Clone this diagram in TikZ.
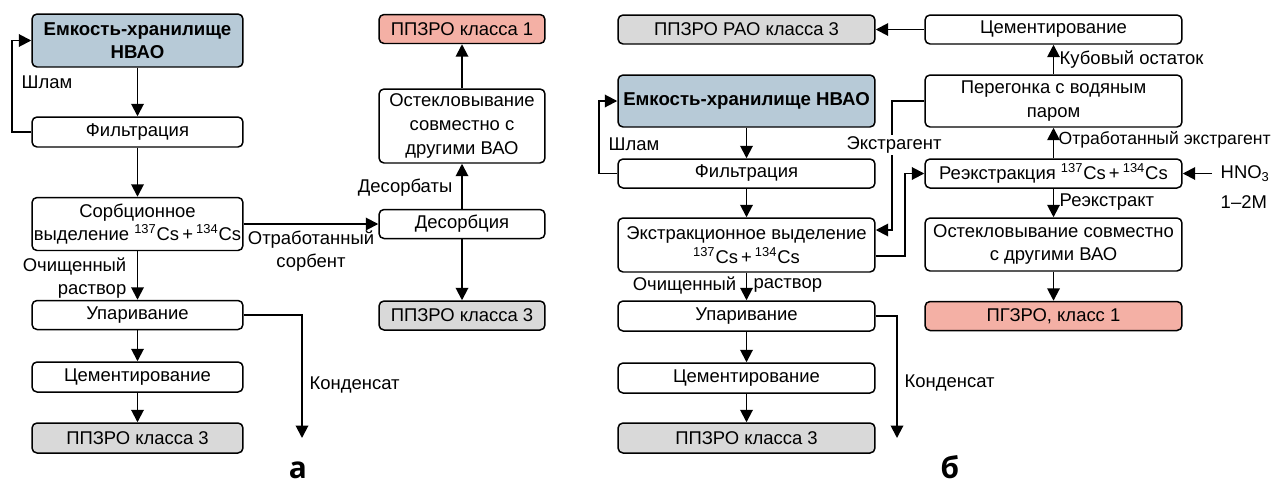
\documentclass[tikz,border=0pt]{standalone}
\usepackage{fontspec}
\setmainfont{Liberation Sans}
\newfontfamily\panelfont{Open Sans}
\usepackage{xcolor}
\usetikzlibrary{arrows.meta}

\definecolor{tankblue}{RGB}{183,202,215}
\definecolor{hlwred}{RGB}{244,176,165}
\definecolor{repogray}{RGB}{217,217,217}

\newcommand{\csmix}{\textsuperscript{137}Cs\,+\,\textsuperscript{134}Cs}

\begin{document}
\begin{tikzpicture}[x=0.02cm, y=-0.02cm, line width=1.1pt,
		>={Triangle[length=0.25cm,width=0.25cm]},
		every node/.style={font=\fontsize{10.5}{13.4}\selectfont, inner sep=1pt},
		box/.style 2 args={draw, line width=0.85pt, rounded corners=0.1cm, align=center,
			minimum width=#1, minimum height=#2},
		tank/.style={fill=tankblue, font=\fontsize{10.6}{13.4}\selectfont\bfseries},
		hot/.style={fill=hlwred},
		cold/.style={fill=repogray},
		tag/.style={font=\fontsize{17}{20}\selectfont\panelfont\bfseries, anchor=base}]
		\useasboundingbox (0,0) rectangle (1277,484);
		
		% panel a
		\node[box={4.22cm}{1.06cm}, tank] (a_tank) at (137.5,40.5) {Емкость-хранилище\\НВАО};
		\node[box={4.22cm}{0.6cm}] (a_filt) at (137.5,132) {Фильтрация};
		\node[box={4.22cm}{1.06cm}] (a_sorb) at (137.5,224) {Сорбционное\\выделение \csmix};
		\node[box={4.22cm}{0.58cm}] (a_evap) at (137.5,315) {Упаривание};
		\node[box={4.22cm}{0.6cm}] (a_cem) at (137.5,377) {Цементирование};
		\node[box={4.22cm}{0.6cm}, cold] (a_repo) at (137.5,438) {ППЗРО класса 3};
		
		\node[box={3.32cm}{0.58cm}, hot] (a_cl1) at (462,29) {ППЗРО класса 1};
		\node[box={3.32cm}{1.48cm}] (a_vitr) at (462,126) {Остекловывание\\совместно с\\другими ВАО};
		\node[box={3.32cm}{0.58cm}] (a_des) at (462,224) {Десорбция};
		\node[box={3.32cm}{0.58cm}, cold] (a_cl3) at (462,315.5) {ППЗРО класса 3};
		
		\coordinate (a_cond) at (302,438);
		
		\draw[->] (a_tank) -- (a_filt);
		\draw[->] (a_filt.west) -- ++(-19,0) |- (a_tank.west);
		\draw[->] (a_filt) -- (a_sorb);
		\draw[->] (a_sorb) -- (a_evap);
		\draw[->] (a_evap) -- (a_cem);
		\draw[->] (a_cem) -- (a_repo);
		\draw[->] (a_evap.east) -| (a_cond);
		\draw[->] (a_sorb.east) -- (a_des.west);
		\draw[->] (a_des) -- (a_vitr);
		\draw[->] (a_vitr) -- (a_cl1);
		\draw[->] (a_des) -- (a_cl3);
		
		\node[anchor=west] (a_sludge) at (19,82) {Шлам};
		\node[anchor=east, align=right] (a_clean) at (129,278) {Очищенный\\раствор};
		\node[align=center] (a_spent) at (311,251) {Отработанный\\сорбент};
		\node[anchor=west] (a_condlab) at (307,385) {Конденсат};
		\node[anchor=east] (a_desorb) at (455,188) {Десорбаты};
		\node[tag] (a_label) at (298,478) {а};
		
		% panel b
		\node[box={5.14cm}{0.58cm}, cold] (b_repoRAO) at (746.5,29.5) {ППЗРО РАО класса 3};
		\node[box={5.14cm}{1.04cm}, tank] (b_tank) at (746.5,101) {Емкость-хранилище НВАО};
		\node[box={5.14cm}{0.58cm}] (b_filt) at (746.5,173.5) {Фильтрация};
		\node[box={5.14cm}{1.08cm}] (b_extr) at (746.5,245) {Экстракционное выделение\\\csmix};
		\node[box={5.14cm}{0.6cm}] (b_evap) at (746.5,316) {Упаривание};
		\node[box={5.14cm}{0.6cm}] (b_cem) at (746.5,378) {Цементирование};
		\node[box={5.14cm}{0.6cm}, cold] (b_repo) at (746.5,438) {ППЗРО класса 3};
		
		\node[box={5.14cm}{0.58cm}] (b_cem2) at (1053.5,29.5) {Цементирование};
		\node[box={5.14cm}{1.04cm}] (b_dist) at (1053.5,101) {Перегонка с водяным\\паром};
		\node[box={5.14cm}{0.58cm}] (b_reex) at (1053.5,173.5) {Реэкстракция \csmix};
		\node[box={5.14cm}{1.06cm}] (b_vitr) at (1053.5,244.5) {Остекловывание совместно\\с другими ВАО};
		\node[box={5.14cm}{0.58cm}, hot] (b_hlw) at (1053.5,316) {ПГЗРО, класс 1};
		
		\coordinate (b_cond) at (897,438);
		\coordinate (b_acid) at (1212,173.5);
		
		\draw[->] (b_cem2) -- (b_repoRAO);
		\draw[->] (b_tank) -- (b_filt);
		\draw[->] (b_filt.west) -- ++(-18,0) |- (b_tank.west);
		\draw[->] (b_filt) -- (b_extr);
		\draw[->] (b_extr) -- (b_evap);
		\draw[->] (b_evap) -- (b_cem);
		\draw[->] (b_cem) -- (b_repo);
		\draw[->] (b_evap.east) -| (b_cond);
		\draw[->] (b_dist.west) -- ++(-32,0) |- ([yshift=0.3cm]b_extr.east);
		\draw[->] ([yshift=-0.22cm]b_extr.east) -- ++(29,0) |- (b_reex.west);
		\draw[->] (b_dist) -- (b_cem2);
		\draw[->] (b_reex) -- (b_dist);
		\draw[->] (b_reex) -- (b_vitr);
		\draw[->] (b_vitr) -- (b_hlw);
		\draw[->] (b_acid) -- (b_reex.east);
		
		\node[anchor=west] (b_sludge) at (606,144) {Шлам};
		\node[fill=white] (b_extrag) at (894,145) {Экстрагент};
		\node[anchor=east] (b_clean1) at (739,285) {Очищенный};
		\node[anchor=west] (b_clean2) at (751,285) {раствор};
		\node[anchor=west] (b_condlab) at (902,383) {Конденсат};
		\node[anchor=west] (b_bottoms) at (1057,60) {Кубовый остаток};
		\node[anchor=west, font=\fontsize{10}{12}\selectfont] (b_spentex) at (1056,140) {Отработанный экстрагент};
		\node[anchor=west] (b_reextr) at (1057,202) {Реэкстракт};
		\node[anchor=west] (b_acidlab) at (1218,174) {HNO\textsubscript{3}};
		\node[anchor=west] (b_molar) at (1218,202) {1–2M};
		\node[tag] (b_label) at (950,478) {б};
	\end{tikzpicture}
\end{document}
